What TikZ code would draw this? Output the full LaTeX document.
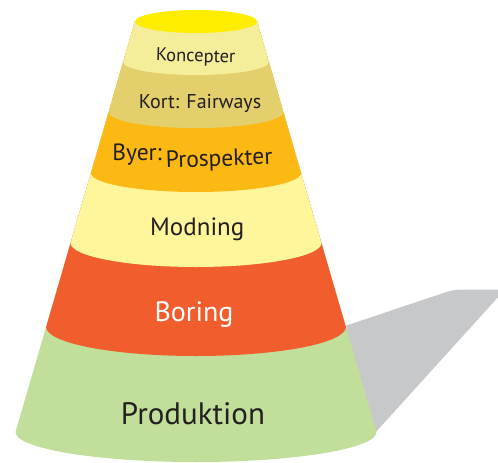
\documentclass[tikz,border=0pt]{standalone}
\usepackage{fontspec}
\setmainfont{PT Sans}
\definecolor{shadowgray}{HTML}{C7C8CA}
\definecolor{topyellow}{HTML}{FFED00}
\definecolor{koncepterc}{HTML}{F4EE9A}
\definecolor{kortc}{HTML}{E3CF6B}
\definecolor{byerc}{HTML}{FDB913}
\definecolor{modningc}{HTML}{FFF59B}
\definecolor{boringc}{HTML}{F15D2C}
\definecolor{produktionc}{HTML}{C1DE9A}
\definecolor{textdark}{HTML}{231F20}
% one band of the cone: filled from the top rim down to its lower elliptic edge
\newcommand{\coneband}[4]{%
  \fill[#1] (135,21.5) -- ({196-#3},#2)
    arc[start angle=180, end angle=0, x radius=#3, y radius=#4]
    -- (257,21.5) -- cycle;}
\tikzset{
  lbl/.style={text=textdark, inner sep=0pt, anchor=base},
  fs/.style={font=\fontsize{#1}{#1}\selectfont}
}
\begin{document}
\begin{tikzpicture}[x=1pt,y=-1pt]
\useasboundingbox (0,0) rectangle (498,463);
\clip (0,0) rectangle (498,463);
% cast shadow
\fill[shadowgray] (330,331) -- (445,292.5) .. controls (455,289.5) .. (470,289.5)
  -- (505,289.5) -- (374,434) -- (330,434) -- cycle;
% bands, painted from the bottom up
\coneband{produktionc}{432}{180.5}{30}
\coneband{boringc}{327}{149.9}{29}
\coneband{modningc}{243}{125.5}{24}
\coneband{byerc}{173}{105}{19}
\coneband{kortc}{112}{87.3}{16}
\coneband{koncepterc}{62}{72.8}{13}
% top rim
\fill[topyellow] (196,21.5) ellipse[x radius=61, y radius=11.5];
% labels
\node[lbl, fs=18.5, rotate=-1.5] (koncepter) at (195.5,62) {Koncepter};
\node[lbl, fs=20] (kort) at (200,108) {Kort: Fairways};
\node[lbl, fs=23.5, anchor=base east] (byer) at (162,160) {Byer:};
\node[lbl, fs=23.5, anchor=base west, rotate=2] (prospekter) at (166,168) {Prospekter};
\node[lbl, fs=25, anchor=base west] (modning) at (150,235) {Modning};
\node[lbl, fs=28, text=white] (boring) at (194,321.7) {Boring};
\node[lbl, fs=31] (produktion) at (193,424.3) {Produktion};
\end{tikzpicture}
\end{document}
